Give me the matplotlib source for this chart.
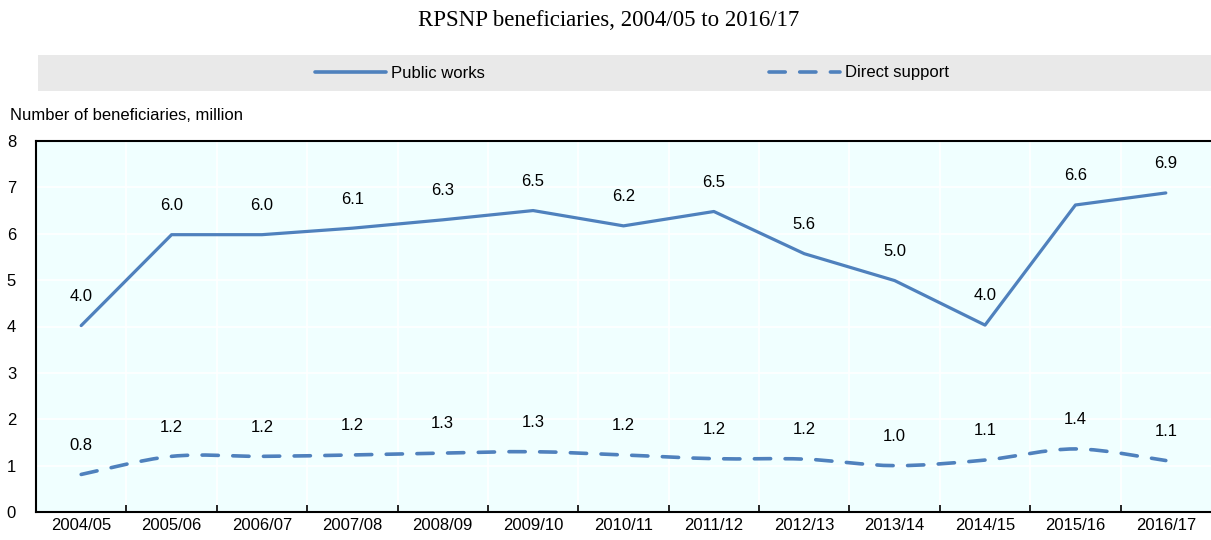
import matplotlib
matplotlib.use("Agg")
import matplotlib.pyplot as plt
import numpy as np
from matplotlib.path import Path
from matplotlib.patches import PathPatch, Rectangle
from matplotlib.lines import Line2D

plt.rcParams['font.family'] = ['Liberation Sans', 'DejaVu Sans']

years = ['2004/05', '2005/06', '2006/07', '2007/08', '2008/09', '2009/10', '2010/11',
         '2011/12', '2012/13', '2013/14', '2014/15', '2015/16', '2016/17']
public_works = [4.02, 5.98, 5.98, 6.12, 6.30, 6.50, 6.17, 6.48, 5.57, 4.99, 4.03, 6.62, 6.88]
direct_support = [0.81, 1.20, 1.20, 1.23, 1.27, 1.30, 1.23, 1.15, 1.14, 1.00, 1.12, 1.36, 1.11]
pw_labels = ['4.0', '6.0', '6.0', '6.1', '6.3', '6.5', '6.2', '6.5', '5.6', '5.0', '4.0', '6.6', '6.9']
ds_labels = ['0.8', '1.2', '1.2', '1.2', '1.3', '1.3', '1.2', '1.2', '1.2', '1.0', '1.1', '1.4', '1.1']

blue = '#4F81BD'


def smooth_path(x, y):
    # catmull-rom through the points, drawn as cubic bezier segments
    verts = [(x[0], y[0])]
    codes = [Path.MOVETO]
    n = len(x)
    for i in range(n - 1):
        x0, y0 = (x[i - 1], y[i - 1]) if i > 0 else (x[i], y[i])
        x1, y1 = x[i], y[i]
        x2, y2 = x[i + 1], y[i + 1]
        x3, y3 = (x[i + 2], y[i + 2]) if i + 2 < n else (x2, y2)
        c1 = (x1 + (x2 - x0) / 6, y1 + (y2 - y0) / 6)
        c2 = (x2 - (x3 - x1) / 6, y2 - (y3 - y1) / 6)
        verts += [c1, c2, (x2, y2)]
        codes += [Path.CURVE4] * 3
    return Path(verts, codes)


fig = plt.figure(figsize=(12.11, 5.4), dpi=100)
ax = fig.add_axes([36 / 1211, 28 / 540, 1 - 36 / 1211, (512 - 141) / 540])

x = np.arange(len(years))
ax.set_facecolor('#F0FFFF')
ax.plot(x, public_works, color=blue, lw=2.3, solid_capstyle='round', zorder=3)
dpatch = PathPatch(smooth_path(x, direct_support), fill=False, edgecolor=blue, lw=2.6,
                   linestyle=(0, (4.5, 4)), capstyle='round', zorder=3)
ax.add_patch(dpatch)

for xi, v, t in zip(x, public_works, pw_labels):
    ax.annotate(t, (xi, v), xytext=(0, 21), textcoords='offset points',
                ha='center', va='center', fontsize=12)
for xi, v, t in zip(x, direct_support, ds_labels):
    ax.annotate(t, (xi, v), xytext=(0, 21), textcoords='offset points',
                ha='center', va='center', fontsize=12)

ax.set_xlim(-0.5, len(years) - 0.5)
ax.set_ylim(0, 8)
ax.set_yticks(range(0, 9))
ax.set_xticks(x)
ax.set_xticklabels(years, fontsize=12)
ax.set_xticks(np.arange(0.5, len(years) - 1, 1), minor=True)
ax.tick_params(axis='x', which='major', length=0, pad=4)
ax.tick_params(axis='x', which='minor', length=5, width=1.2, direction='in', color='black')
ax.tick_params(axis='y', length=0, labelsize=12)
for t in ax.get_yticklabels():
    t.set_horizontalalignment('left')
ax.yaxis.set_tick_params(pad=21)

ax.grid(axis='y', which='major', color='white', lw=1.2)
ax.grid(axis='x', which='minor', color='white', lw=1.2)
ax.set_axisbelow(True)
for s in ['left', 'bottom', 'top']:
    ax.spines[s].set_color('black')
    ax.spines[s].set_linewidth(1.5)
ax.spines['right'].set_visible(False)

fig.text(609 / 1211, 1 - 20 / 540, 'RPSNP beneficiaries, 2004/05 to 2016/17', ha='center', va='center',
         fontsize=16.5, family=['Liberation Serif', 'DejaVu Serif'])
fig.text(10 / 1211, 1 - 116 / 540, 'Number of beneficiaries, million', ha='left', va='center',
         fontsize=12)

fig.patches.append(Rectangle((38 / 1211, 1 - 91 / 540), 1 - 38 / 1211, 36 / 540,
                             transform=fig.transFigure, facecolor='#E9E9E9', edgecolor='none'))
handles = [Line2D([], [], color=blue, lw=2.6, solid_capstyle='round'),
           Line2D([], [], color=blue, lw=2.6, linestyle=(0, (4.5, 4)), dash_capstyle='round')]
fig.legend(handles, ['Public works', 'Direct support'], loc='center',
           bbox_to_anchor=(632 / 1211, 1 - 73 / 540), ncol=2, frameon=False,
           fontsize=12, handlelength=4.3, handletextpad=0.3, columnspacing=17)

fig.savefig('out.png', dpi=100)
